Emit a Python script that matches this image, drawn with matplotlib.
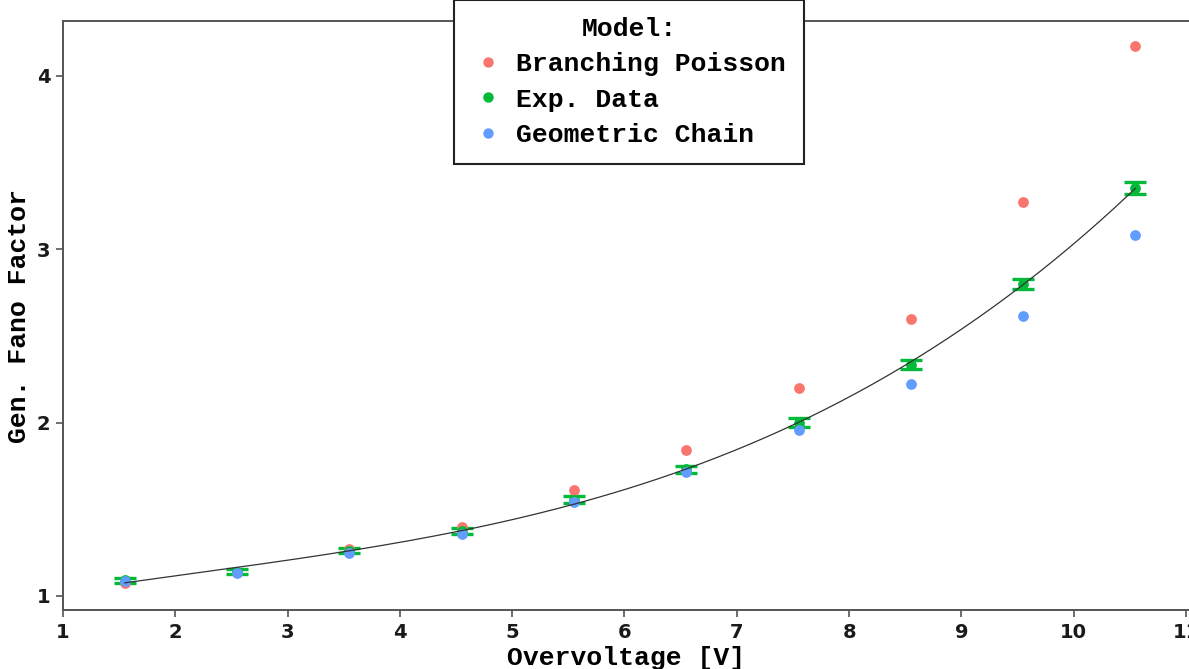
import numpy as np
import matplotlib.pyplot as plt
from matplotlib.lines import Line2D

# Generalised Fano factor vs overvoltage: two models against measured data
overvoltage = [1.55, 2.55, 3.55, 4.55, 5.55, 6.55, 7.55, 8.55, 9.55, 10.55]
branching_poisson = [1.075, 1.138, 1.27, 1.40, 1.61, 1.84, 2.20, 2.60, 3.27, 4.17]
geometric_chain = [1.085, 1.135, 1.25, 1.36, 1.54, 1.715, 1.96, 2.22, 2.615, 3.08]
exp_data = [1.09, 1.14, 1.26, 1.375, 1.555, 1.73, 2.00, 2.335, 2.80, 3.355]
exp_err = [0.015, 0.015, 0.015, 0.015, 0.02, 0.02, 0.025, 0.025, 0.03, 0.035]

x_ticks = [1, 2, 3, 4, 5, 6, 7, 8, 9, 10, 11]
y_ticks = [1, 2, 3, 4]

RED = '#F8766D'
GREEN = '#00BA38'
BLUE = '#619CFF'
AXIS = '#555555'

mono = dict(family='Liberation Mono', weight='bold', size=19)

fig = plt.figure(figsize=(11.89, 6.69), dpi=100)
ax = fig.add_axes([63 / 1189, 59 / 669, 1126 / 1189, 589 / 669])

x = np.array(overvoltage)
y = np.array(exp_data)

# error bars under the points
ax.errorbar(x, y, yerr=exp_err, fmt='none', ecolor=GREEN, elinewidth=1.5,
            capsize=8, capthick=2.4, zorder=2)

ax.scatter(x, branching_poisson, s=60, color=RED, linewidths=0, zorder=3)
ax.scatter(x, y, s=60, color=GREEN, linewidths=0, zorder=3)
ax.scatter(x, geometric_chain, s=60, color=BLUE, linewidths=0, zorder=3)

# smooth cubic fit through the measured points
coef = np.polyfit(x, y, 3)
xf = np.linspace(x.min(), x.max(), 200)
yf = np.polyval(coef, xf)
ax.plot(xf, yf, color='#333333', lw=0.9, zorder=4)

ax.set_xlim(1, 11.027)
ax.set_ylim(0.919, 4.317)
ax.set_xticks(x_ticks)
ax.set_yticks(y_ticks)

for side in ['left', 'bottom', 'top']:
    ax.spines[side].set_color(AXIS)
    ax.spines[side].set_linewidth(1.4)
ax.spines['right'].set_visible(False)

ax.tick_params(axis='both', length=5, width=1.2, color=AXIS, pad=4,
               labelsize=14, labelcolor='#1a1a1a')
for lab in ax.get_xticklabels() + ax.get_yticklabels():
    lab.set_fontweight('bold')
    lab.set_fontfamily('DejaVu Sans')

ax.set_xlabel('Overvoltage [V]', fontdict=mono, labelpad=3)
ax.set_ylabel('Gen. Fano Factor', fontdict=mono, labelpad=4)

handles = [
    Line2D([], [], marker='o', ls='none', markersize=7.5, color=RED, markeredgewidth=0),
    Line2D([], [], marker='o', ls='none', markersize=7.5, color=GREEN, markeredgewidth=0),
    Line2D([], [], marker='o', ls='none', markersize=7.5, color=BLUE, markeredgewidth=0),
]
leg = fig.legend(handles, ['Branching Poisson', 'Exp. Data', 'Geometric Chain'],
                 title='Model:', prop=mono, title_fontproperties=mono,
                 loc='lower center', bbox_to_anchor=(629 / 1189, (669 - 164) / 669),
                 frameon=True, fancybox=False, framealpha=1, edgecolor='#222222',
                 borderpad=0.65, handlelength=1.25, handletextpad=0.45,
                 labelspacing=0.43, borderaxespad=0)
leg.get_frame().set_linewidth(1.5)
leg.set_zorder(10)

fig.savefig('out.png', dpi=100)
